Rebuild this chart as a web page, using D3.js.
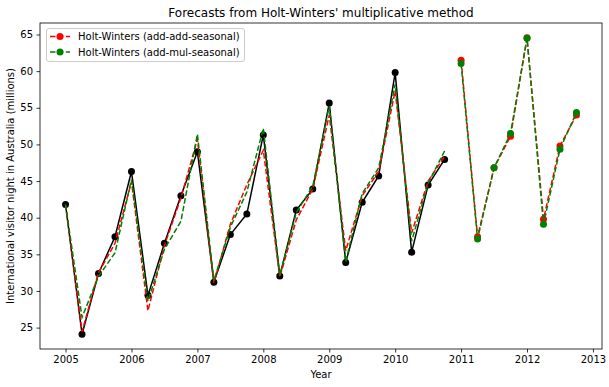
<!DOCTYPE html>
<html>
<head>
<meta charset="utf-8">
<script src="https://cdn.jsdelivr.net/npm/d3@7"></script>
<style>
  body { margin: 0; background: #fff; }
  text { font-family: "DejaVu Sans", sans-serif; }
</style>
</head>
<body>
<div id="chart"></div>
<script>
// Quarterly time index (years)
const obsTime = [2005.00, 2005.25, 2005.50, 2005.75, 2006.00, 2006.25, 2006.50, 2006.75,
                 2007.00, 2007.25, 2007.50, 2007.75, 2008.00, 2008.25, 2008.50, 2008.75,
                 2009.00, 2009.25, 2009.50, 2009.75, 2010.00, 2010.25, 2010.50, 2010.75];
const fcTime = [2011.00, 2011.25, 2011.50, 2011.75, 2012.00, 2012.25, 2012.50, 2012.75];

// Observed visitor nights (black)
const observed = [41.8, 24.1, 32.4, 37.4, 46.3, 29.4, 36.5, 43.0,
                  49.0, 31.2, 37.7, 40.5, 51.3, 32.05, 41.05, 43.9,
                  55.65, 33.9, 42.1, 45.7, 59.8, 35.3, 44.45, 47.95];

// Fitted values
const fitAdd = [41.8, 24.45, 32.5, 36.5, 44.9, 27.3, 36.2, 42.7,
                50.7, 31.1, 39.1, 44.5, 49.2, 31.9, 39.7, 43.9,
                54.0, 35.5, 43.0, 46.3, 57.3, 37.9, 45.0, 48.4];
const fitMul = [41.8, 26.4, 32.0, 35.2, 45.2, 28.6, 35.7, 39.5,
                51.4, 31.4, 38.7, 43.5, 52.2, 32.1, 40.7, 44.3,
                55.2, 34.0, 43.3, 46.8, 58.2, 36.8, 44.7, 49.1];

// Forecasts
const fcAdd = [61.5, 37.4, 46.8, 51.1, 64.55, 39.8, 49.8, 54.0];
const fcMul = [61.05, 37.1, 46.8, 51.5, 64.5, 39.1, 49.35, 54.35];

const xTicks = [2005, 2006, 2007, 2008, 2009, 2010, 2011, 2012, 2013];
const yTicks = [25, 30, 35, 40, 45, 50, 55, 60, 65];
const legendLabels = ["Holt-Winters (add-add-seasonal)", "Holt-Winters (add-mul-seasonal)"];

const width = 609, height = 387;
const plot = { left: 40, right: 602, top: 23, bottom: 349 };

const svg = d3.select("#chart").append("svg")
    .attr("width", width)
    .attr("height", height);

const x = d3.scaleLinear().domain([2004.6125, 2013.1375]).range([plot.left, plot.right]);
const y = d3.scaleLinear().domain([22.08, 66.57]).range([plot.bottom, plot.top]);

// Axes
const xAxis = svg.append("g")
    .attr("transform", `translate(0,${plot.bottom})`)
    .call(d3.axisBottom(x).tickValues(xTicks).tickFormat(d3.format("d")).tickSize(3.5).tickPadding(3.5));
const yAxis = svg.append("g")
    .attr("transform", `translate(${plot.left},0)`)
    .call(d3.axisLeft(y).tickValues(yTicks).tickSize(3.5).tickPadding(3.5));
[xAxis, yAxis].forEach(g => {
    g.select(".domain").remove();
    g.selectAll("line").attr("stroke", "#000").attr("stroke-width", 0.8);
    g.selectAll("text").attr("fill", "#000").style("font-size", "10px")
        .style("font-family", "'DejaVu Sans', sans-serif");
});

const line = d3.line().x(d => x(d[0])).y(d => y(d[1]));
const zip = (t, v) => t.map((d, i) => [d, v[i]]);
const dash = "5.5,2.4";

// Observed
svg.append("path").datum(zip(obsTime, observed))
    .attr("d", line).attr("fill", "none").attr("stroke", "black").attr("stroke-width", 1.5);
svg.selectAll(".obs").data(zip(obsTime, observed)).enter().append("circle")
    .attr("cx", d => x(d[0])).attr("cy", d => y(d[1])).attr("r", 3.5).attr("fill", "black");

// Fitted
svg.append("path").datum(zip(obsTime, fitAdd))
    .attr("d", line).attr("fill", "none").attr("stroke", "red").attr("stroke-width", 1.5)
    .attr("stroke-dasharray", dash);
svg.append("path").datum(zip(obsTime, fitMul))
    .attr("d", line).attr("fill", "none").attr("stroke", "green").attr("stroke-width", 1.5)
    .attr("stroke-dasharray", dash);

// Forecasts
[[fcAdd, "red"], [fcMul, "green"]].forEach(([vals, color]) => {
    const pts = zip(fcTime, vals);
    svg.append("path").datum(pts)
        .attr("d", line).attr("fill", "none").attr("stroke", color).attr("stroke-width", 1.5)
        .attr("stroke-dasharray", dash);
    svg.selectAll(null).data(pts).enter().append("circle")
        .attr("cx", d => x(d[0])).attr("cy", d => y(d[1])).attr("r", 3.5).attr("fill", color);
});

// Frame
svg.append("rect")
    .attr("x", plot.left).attr("y", plot.top)
    .attr("width", plot.right - plot.left).attr("height", plot.bottom - plot.top)
    .attr("fill", "none").attr("stroke", "#000").attr("stroke-width", 0.8);

// Legend
const lg = svg.append("g");
lg.append("rect").attr("x", 46.5).attr("y", 28.5).attr("width", 198).attr("height", 33)
    .attr("rx", 2.5).attr("fill", "white").attr("fill-opacity", 0.8)
    .attr("stroke", "#ccc").attr("stroke-width", 1);
["red", "green"].forEach((c, i) => {
    const cy = 36.5 + i * 15.5;
    lg.append("line").attr("x1", 50).attr("x2", 70).attr("y1", cy).attr("y2", cy)
        .attr("stroke", c).attr("stroke-width", 1.5).attr("stroke-dasharray", dash);
    lg.append("circle").attr("cx", 60).attr("cy", cy).attr("r", 3.5).attr("fill", c);
    lg.append("text").attr("x", 78).attr("y", cy).attr("dy", "0.35em")
        .style("font-size", "10px").text(legendLabels[i]);
});

// Titles
svg.append("text").attr("x", (plot.left + plot.right) / 2).attr("y", 17)
    .attr("text-anchor", "middle").style("font-size", "12px")
    .text("Forecasts from Holt-Winters' multiplicative method");
svg.append("text").attr("x", (plot.left + plot.right) / 2).attr("y", 378)
    .attr("text-anchor", "middle").style("font-size", "10px").text("Year");
svg.append("text")
    .attr("transform", `translate(14,${(plot.top + plot.bottom) / 2}) rotate(-90)`)
    .attr("text-anchor", "middle").style("font-size", "10px")
    .text("International visitor night in Australia (millions)");
</script>
</body>
</html>
